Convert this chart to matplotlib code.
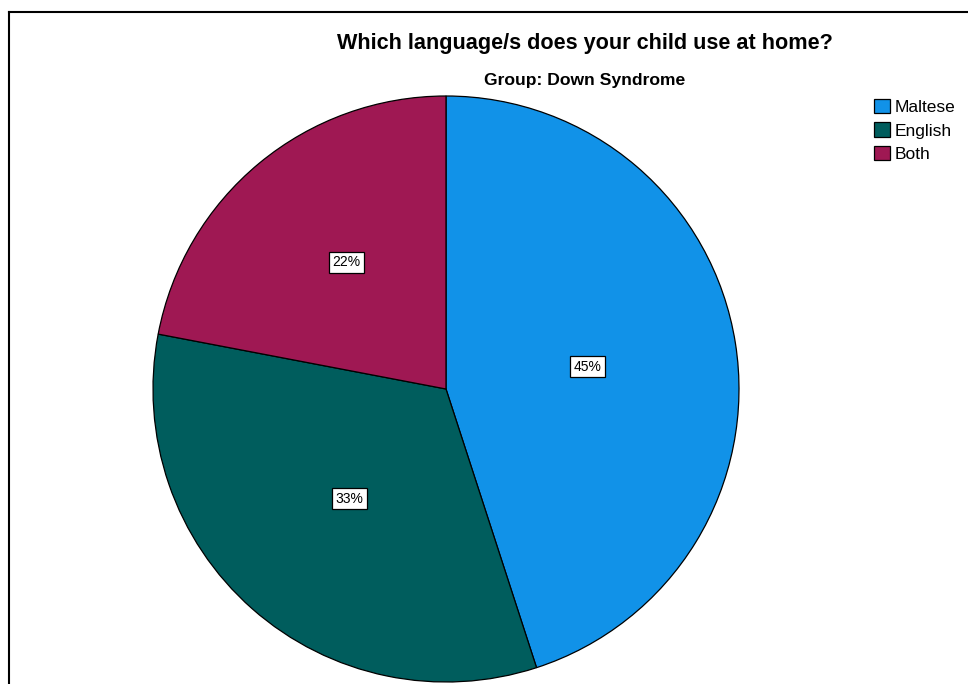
import numpy as np
import matplotlib
matplotlib.use("Agg")
import matplotlib.pyplot as plt
from matplotlib.lines import Line2D
from matplotlib.patches import Patch

categories = ["Maltese", "English", "Both"]
percentages = [45, 33, 22]
colors = ["#1192e8", "#005d5d", "#9f1853"]

W, H = 968, 684
fig = plt.figure(figsize=(W / 100, H / 100), dpi=100)
fig.patch.set_facecolor("white")

# outer frame (left and top edges visible)
fig.add_artist(Line2D([8.5 / W, 8.5 / W], [0, 1 - 11.5 / H], color="black", lw=1.5,
                      transform=fig.transFigure))
fig.add_artist(Line2D([8.5 / W, 1], [1 - 11.5 / H, 1 - 11.5 / H], color="black", lw=1.5,
                      transform=fig.transFigure))

cx, cy, r = 446, 389, 293
ax = fig.add_axes([(cx - r) / W, (H - cy - r) / H, 2 * r / W, 2 * r / H])
wedges, texts, autotexts = ax.pie(
    percentages,
    colors=colors,
    startangle=90,
    counterclock=False,
    radius=1,
    autopct=lambda p: f"{p:.0f}%",
    pctdistance=0.5,
    wedgeprops=dict(edgecolor="black", linewidth=0.9),
    textprops=dict(fontsize=10, family="Liberation Sans", color="black"),
)
# radial placement of the value labels
label_dist = [0.49, 0.50, 0.55]
label_turn = [0, 0, -1.5]
for w, t, d, dt in zip(wedges, autotexts, label_dist, label_turn):
    ang = np.deg2rad((w.theta1 + w.theta2) / 2 + dt)
    t.set_position((d * np.cos(ang), d * np.sin(ang)))
    t.set_bbox(dict(facecolor="white", edgecolor="black", boxstyle="square,pad=0.25", linewidth=0.9))
ax.set_xlim(-1, 1)
ax.set_ylim(-1, 1)
ax.set_aspect("auto")
ax.axis("off")

fig.text(585 / W, 1 - 44 / H, "Which language/s does your child use at home?",
         ha="center", va="center", fontsize=15.6, fontweight="bold", family="Liberation Sans")
fig.text(585 / W, 1 - 80 / H, "Group: Down Syndrome",
         ha="center", va="center", fontsize=12.6, fontweight="bold", stretch="condensed",
         family=["Liberation Sans Narrow", "Liberation Sans"])

handles = [Patch(facecolor=c, edgecolor="black", linewidth=0.9) for c in colors]
fig.legend(handles, categories, loc="upper left", bbox_to_anchor=(874 / W, 1 - 99 / H),
           frameon=False, prop=dict(family="Liberation Sans", size=12.5),
           handlelength=0.9, handleheight=0.9, handletextpad=0.3, labelspacing=0.42,
           borderaxespad=0, borderpad=0.0)

fig.savefig("out.png", dpi=100, facecolor="white")
